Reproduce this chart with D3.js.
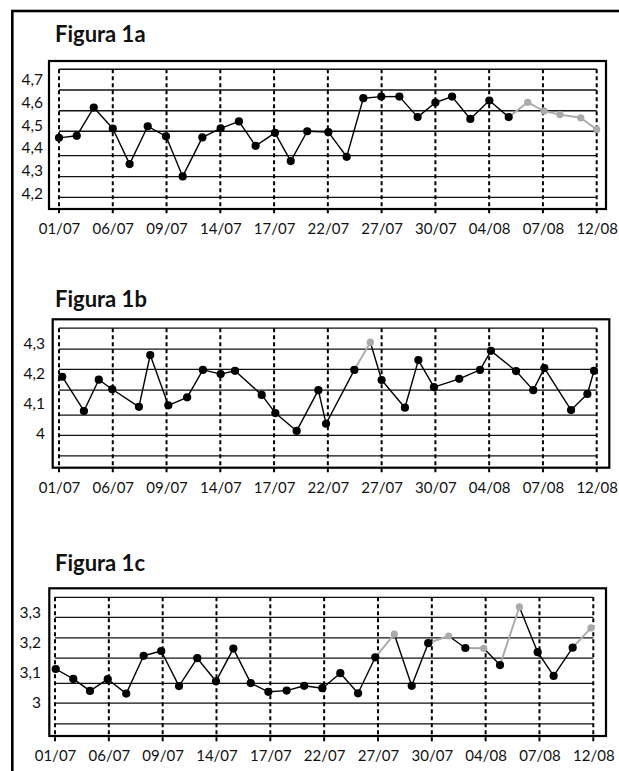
<!DOCTYPE html>
<html><head><meta charset="utf-8">
<script src="https://cdn.jsdelivr.net/npm/d3@7"></script>
<style>
html,body{margin:0;padding:0;background:#fff;}
svg{display:block;}
text{font-family:Lato,"Open Sans",sans-serif;fill:#111;}
</style></head>
<body>
<script>
// ---------- data ----------
const xTickLabels = ["01/07","06/07","09/07","14/07","17/07","22/07","27/07","30/07","04/08","07/08","12/08"];
const xTickIndex = [0,3,6,9,12,15,18,21,24,27,30];

const fig1aX = [0,0.99,1.94,3.00,3.94,4.95,5.97,6.90,8.00,9.02,10.04,10.97,12.05,12.93,13.85,15.03,16.05,16.98,17.98,18.99,20.01,21.00,21.93,22.95,24.01,25.09,26.15,27.06,27.95,29.11,30];
const fig1aY = [4.444,4.453,4.577,4.485,4.329,4.495,4.451,4.275,4.446,4.486,4.516,4.409,4.466,4.342,4.473,4.469,4.361,4.618,4.625,4.625,4.535,4.599,4.625,4.527,4.608,4.535,4.600,4.562,4.546,4.532,4.481];
const fig1aGray = [26,27,28,29,30];
const fig1aTicks = [4.2,4.3,4.4,4.5,4.6,4.7];
const fig1aGrid = [4.745,4.654,4.563,4.473,4.366,4.274,4.183];

const fig1bX = [0.18,1.39,2.22,2.97,4.46,5.09,6.10,7.15,8.03,9.02,9.82,11.31,12.07,13.26,14.47,14.90,16.48,17.37,18.00,19.30,20.05,20.92,22.33,23.49,24.10,25.50,26.46,27.08,28.57,29.48,29.85];
const fig1bY = [4.190,4.075,4.180,4.148,4.089,4.263,4.094,4.121,4.213,4.199,4.210,4.129,4.068,4.008,4.145,4.032,4.213,4.306,4.179,4.086,4.246,4.155,4.183,4.213,4.277,4.209,4.145,4.219,4.078,4.132,4.210];
const fig1bGray = [17];
const fig1bTicks = [4.0,4.1,4.2,4.3];
const fig1bGrid = [4.353,4.283,4.215,4.145,4.061,3.993,3.924];

const fig1cX = [0.04,1.02,1.95,2.94,3.97,4.94,5.92,6.91,7.93,8.97,9.94,10.91,11.89,12.91,13.89,14.90,15.90,16.89,17.85,18.91,19.88,20.80,21.94,22.87,23.89,24.80,25.88,26.90,27.79,28.85,29.87];
const fig1cY = [3.111,3.078,3.038,3.077,3.029,3.155,3.171,3.054,3.147,3.070,3.179,3.064,3.035,3.039,3.055,3.047,3.097,3.030,3.150,3.227,3.055,3.197,3.221,3.181,3.180,3.124,3.318,3.167,3.088,3.182,3.248];
const fig1cGray = [19,22,24,26,30];
const fig1cTicks = [3.0,3.1,3.2,3.3];
const fig1cGrid = [3.350,3.283,3.215,3.147,3.063,2.997,2.928];

// ---------- layout ----------
const panels = [
  {title:"Figura 1a", xs:fig1aX, ys:fig1aY, gray:fig1aGray, ticks:fig1aTicks, grid:fig1aGrid, yDom:[4.2,4.7],
   box:[49,61,557,148], gx:[59,596.7], yr:[193.5,79.5], titleY:41.7, labelX:43, tickY:229},
  {title:"Figura 1b", xs:fig1bX, ys:fig1bY, gray:fig1bGray, ticks:fig1bTicks, grid:fig1bGrid, yDom:[4.0,4.3],
   box:[52.7,319.3,556.6,148.4], gx:[59,596.7], yr:[433.3,344], titleY:307, labelX:45, tickY:488},
  {title:"Figura 1c", xs:fig1cX, ys:fig1cY, gray:fig1cGray, ticks:fig1cTicks, grid:fig1cGrid, yDom:[3.0,3.3],
   box:[49.3,588.3,556.7,147.7], gx:[55,593.3], yr:[702.3,612.3], titleY:570.7, labelX:41, tickY:756}
];
const GRAY = "#aaaaaa";

const svg = d3.select("body").append("svg").attr("width",619).attr("height",771);

// outer frame
svg.append("rect").attr("x",12.3).attr("y",11).attr("width",640).attr("height",800)
  .attr("fill","none").attr("stroke","#000").attr("stroke-width",2.6);

panels.forEach(p => {
  const g = svg.append("g");
  const x = d3.scaleLinear().domain([0,30]).range(p.gx);
  const y = d3.scaleLinear().domain(p.yDom).range(p.yr);
  const [bx,by,bw,bh] = p.box;

  g.append("text").attr("x",55).attr("y",p.titleY).attr("font-size",22).attr("font-weight",700).text(p.title);

  g.append("rect").attr("x",bx).attr("y",by).attr("width",bw).attr("height",bh)
    .attr("fill","none").attr("stroke","#000").attr("stroke-width",2.2);

  // horizontal grid
  g.selectAll(".hg").data(p.grid).join("line")
    .attr("x1",p.gx[0]).attr("x2",p.gx[1])
    .attr("y1",d=>y(d)).attr("y2",d=>y(d))
    .attr("stroke","#111").attr("stroke-width",1.3);

  // vertical dashed lines
  const topY = y(d3.max(p.grid));
  g.selectAll(".vg").data(xTickIndex).join("line")
    .attr("x1",d=>x(d)).attr("x2",d=>x(d))
    .attr("y1",topY).attr("y2",by+bh+6)
    .attr("stroke","#000").attr("stroke-width",2).attr("stroke-dasharray","4,3");

  // x labels
  const xa = d3.axisBottom(x).tickValues(xTickIndex).tickSize(0)
    .tickFormat((d,i)=>xTickLabels[i]);
  const xg = g.append("g").attr("transform",`translate(0,${p.tickY})`).call(xa);
  xg.select(".domain").remove();
  xg.selectAll("text").attr("dy","0.35em").attr("y",0).attr("font-size",15)
    .attr("font-family","Lato, sans-serif").attr("fill","#111");

  // y labels
  const ya = d3.axisLeft(y).tickValues(p.ticks).tickSize(0)
    .tickFormat(d=>String(+d.toFixed(1)).replace(".",","));
  const yg = g.append("g").attr("transform",`translate(${p.labelX},0)`).call(ya);
  yg.select(".domain").remove();
  yg.selectAll("text").attr("x",0).attr("font-size",15.5)
    .attr("font-family","Lato, sans-serif").attr("fill","#111");

  // series
  const pts = p.xs.map((v,i)=>({x:v, y:p.ys[i], gray:p.gray.includes(i)}));
  const segs = d3.pairs(pts);
  g.selectAll(".seg").data(segs).join("line")
    .attr("x1",d=>x(d[0].x)).attr("y1",d=>y(d[0].y))
    .attr("x2",d=>x(d[1].x)).attr("y2",d=>y(d[1].y))
    .attr("stroke",d=>d[1].gray?GRAY:"#000")
    .attr("stroke-width",d=>d[1].gray?1.9:1.4);
  g.selectAll(".pt").data(pts).join("circle")
    .attr("cx",d=>x(d.x)).attr("cy",d=>y(d.y))
    .attr("r",d=>d.gray?3.6:4.1)
    .attr("fill",d=>d.gray?GRAY:"#000");
});
</script>
</body></html>
